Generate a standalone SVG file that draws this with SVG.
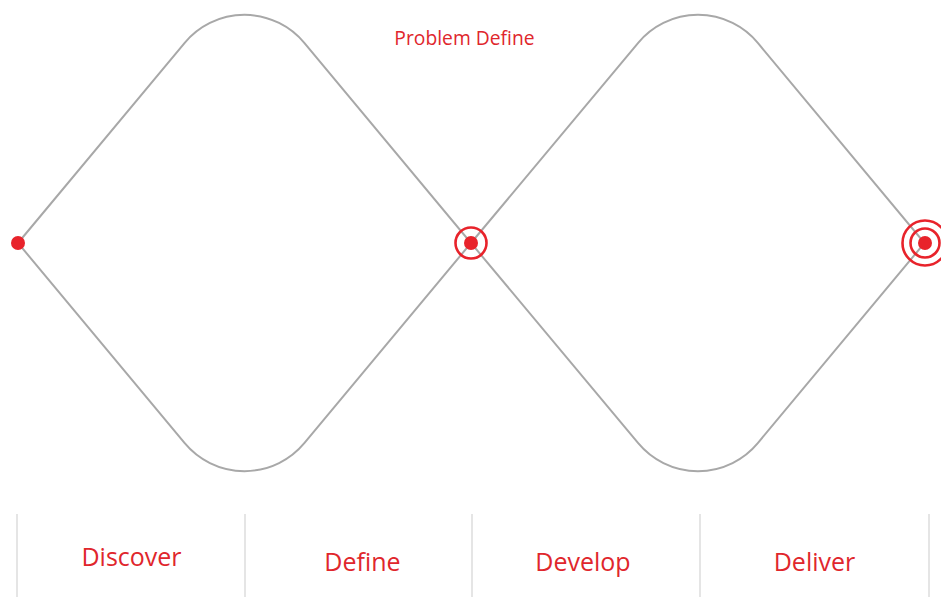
<svg xmlns="http://www.w3.org/2000/svg" width="941" height="597" viewBox="0 0 941 597">
  <style>
    .shape { fill: none; stroke: #a8a8a8; stroke-width: 2; }
    .div { stroke: #d4d4d4; stroke-width: 1.2; }
    .ring { fill: none; stroke: #e8232b; stroke-width: 2.6; }
    .dot { fill: #e8232b; }
    .lbl { fill: #e0262c; font-family: "Open Sans", "Liberation Sans", sans-serif; text-anchor: middle; }
  </style>
  <rect width="941" height="597" fill="#ffffff"/>
  <g id="connectors">
    <path class="shape" d="M18,243 L184.7,42.9 A77.8,77.8 0 0 1 304.3,42.9 L471,243 L304.3,443.1 A77.8,77.8 0 0 1 184.7,443.1 Z"/>
    <path class="shape" d="M471,243 L638.2,42.9 A77.8,77.8 0 0 1 757.8,42.9 L924.5,243 L757.8,443.1 A77.8,77.8 0 0 1 638.2,443.1 Z"/>
  </g>
  <g id="start">
    <circle class="dot" cx="18" cy="243" r="7"/>
  </g>
  <g id="problem-define">
    <circle class="ring" cx="471" cy="243" r="15.5"/>
    <circle class="dot" cx="471" cy="243" r="7"/>
    <text class="lbl" x="464.5" y="45" font-size="19.3">Problem Define</text>
  </g>
  <g id="solution">
    <circle class="ring" cx="925" cy="243" r="22.5"/>
    <circle class="ring" cx="925" cy="243" r="14.5"/>
    <circle class="dot" cx="925" cy="243" r="7"/>
  </g>
  <g id="phases">
    <line class="div" x1="17" y1="514" x2="17" y2="597"/>
    <line class="div" x1="245" y1="514" x2="245" y2="597"/>
    <line class="div" x1="472" y1="514" x2="472" y2="597"/>
    <line class="div" x1="700" y1="514" x2="700" y2="597"/>
    <line class="div" x1="929" y1="514" x2="929" y2="597"/>
  </g>
  <g id="discover"><text class="lbl" x="131.5" y="566" font-size="25">Discover</text></g>
  <g id="define"><text class="lbl" x="362.5" y="571" font-size="25">Define</text></g>
  <g id="develop"><text class="lbl" x="583" y="571" font-size="25">Develop</text></g>
  <g id="deliver"><text class="lbl" x="814.5" y="571" font-size="25">Deliver</text></g>
</svg>
